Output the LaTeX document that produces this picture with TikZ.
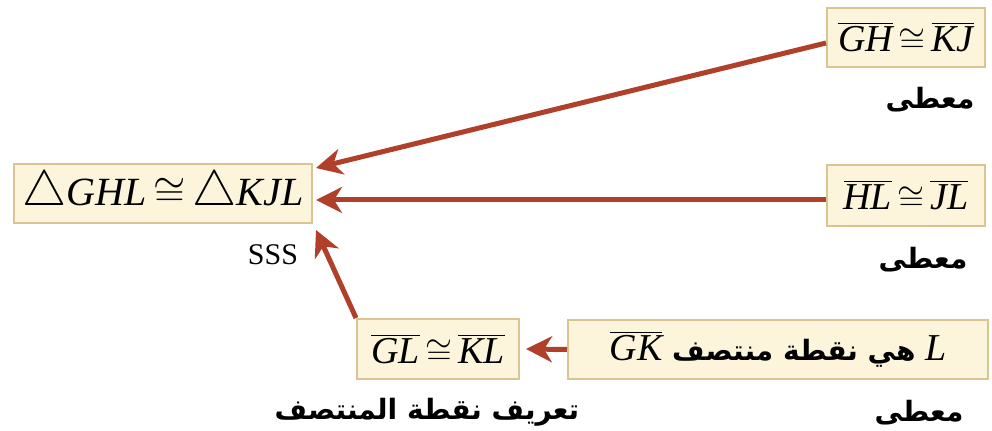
\documentclass[tikz,border=0pt]{standalone}
\usepackage{graphicx}
\usepackage{fontspec}
\setmainfont{Liberation Serif}
\newfontfamily\arabicfont[Script=Arabic]{DejaVu Sans}
\TeXXeTstate=1
\usetikzlibrary{arrows.meta,calc}
\definecolor{arrowred}{HTML}{B0402A}
\definecolor{boxfill}{HTML}{FCF5DC}
\definecolor{boxline}{HTML}{D9C591}
\newcommand\vi[1]{\mbox{\rmfamily\mdseries\itshape #1}}
\newcommand\seg[1]{\overline{\vi{#1}}}
\newcommand\cgr{\mathord{\,\cong\,}}
\newcommand\tri{\mathord{\scalebox{1.2}{$\bigtriangleup$}}}
\tikzset{
  stmt/.style={draw=boxline, fill=boxfill, line width=1pt, inner sep=0pt,
    minimum height=29.5pt, font=\fontsize{19}{23}\selectfont},
  lbl/.style={inner sep=0pt, font=\arabicfont\bfseries\fontsize{14}{17}\selectfont},
  conn/.style={draw=arrowred, line width=2.5pt,
    -{Stealth[length=13pt,width=13pt,inset=4pt]}}
}
\begin{document}
\begin{tikzpicture}[x=0.5pt,y=-0.5pt]
\useasboundingbox[fill=white] (0,0) rectangle (992,431);
\node[stmt, minimum width=79pt] (gh) at (906,37.5) {$\seg{GH}\cgr\seg{KJ}$};
\node[lbl] (given1) at (930,100) {\beginR معطى\endR};
\node[stmt, minimum width=149pt, font=\fontsize{20}{24}\selectfont] (tri) at (163,193.5) {$\tri\vi{GHL}\cgr\tri\vi{KJL}$};
\node[stmt, minimum width=79pt, minimum height=30.5pt] (hl) at (906,195.5) {$\seg{HL}\cgr\seg{JL}$};
\node[lbl] (given2) at (923,260) {\beginR معطى\endR};
\node[inner sep=0pt, font=\fontsize{15}{18}\selectfont] (sss) at (273,255) {SSS};
\node[stmt, minimum width=81pt, minimum height=30pt] (gl) at (438,349) {$\seg{GL}\cgr\seg{KL}$};
\node[stmt, minimum width=210pt] (mid) at (778,349.5) {\arabicfont\bfseries\fontsize{14}{17}\selectfont\beginR\mbox{\fontsize{19}{23}\selectfont$\vi{L}$} هي نقطة منتصف \mbox{\fontsize{19}{23}\selectfont$\seg{GK}$}\endR};
\node[lbl] (given3) at (919,413) {\beginR معطى\endR};
\node[lbl] (def) at (427,412) {\beginR تعريف نقطة المنتصف\endR};
\draw[conn] ($(gh.west)+(0,5.5)$) -- ($(tri.east)+(3,-25.5)$);
\draw[conn] ($(hl.west)+(0,4.5)$) -- ($(tri.east)+(3,6.5)$);
\draw[conn] (gl.north west) -- ($(tri.east)+(3,36.5)$);
\draw[conn] (mid.west) -- ($(gl.east)+(6,0)$);
\end{tikzpicture}
\end{document}
